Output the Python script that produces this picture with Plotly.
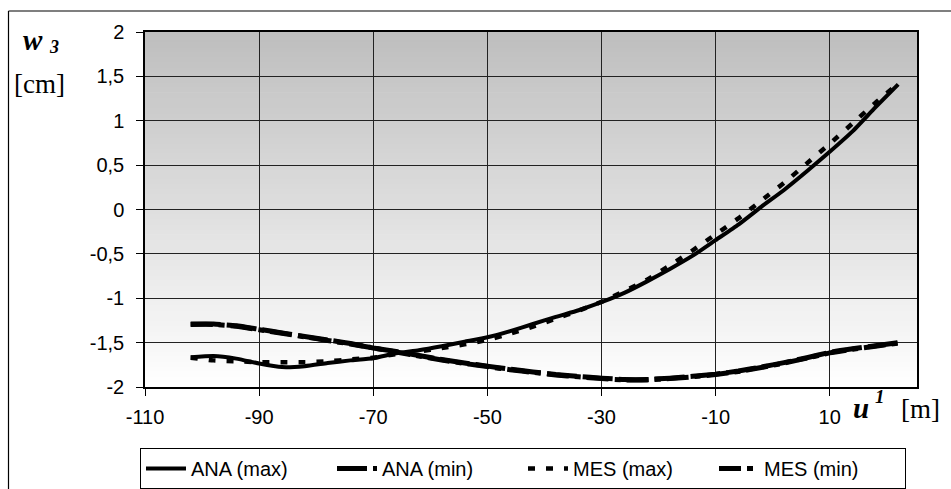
import plotly.graph_objects as go

# ---- data ----
u1 = [-102, -98, -94, -90, -86, -82, -78, -74, -70, -66, -62, -58, -54, -50, -46, -42,
      -38, -34, -30, -26, -22, -18, -14, -10, -6, -2, 2, 6, 10, 14, 18, 22]

ana_max = [-1.665, -1.65, -1.68, -1.735, -1.775, -1.765, -1.73, -1.70, -1.675, -1.62,
           -1.585, -1.54, -1.49, -1.44, -1.37, -1.29, -1.21, -1.135, -1.045, -0.94,
           -0.81, -0.67, -0.52, -0.345, -0.17, 0.03, 0.22, 0.43, 0.65, 0.88, 1.15, 1.41]

ana_min = [-1.29, -1.29, -1.31, -1.35, -1.39, -1.43, -1.47, -1.51, -1.56, -1.60,
           -1.645, -1.69, -1.73, -1.765, -1.80, -1.83, -1.86, -1.88, -1.90, -1.915,
           -1.915, -1.90, -1.88, -1.855, -1.82, -1.775, -1.725, -1.67, -1.61, -1.57,
           -1.535, -1.50]

mes_max = [-1.67, -1.70, -1.71, -1.72, -1.72, -1.72, -1.71, -1.69, -1.67, -1.63,
           -1.60, -1.56, -1.52, -1.47, -1.40, -1.32, -1.23, -1.14, -1.04, -0.92,
           -0.79, -0.63, -0.46, -0.28, -0.10, 0.10, 0.30, 0.52, 0.74, 0.97, 1.20, 1.42]

mes_min = [-1.295, -1.295, -1.315, -1.355, -1.395, -1.435, -1.475, -1.515, -1.56, -1.605,
           -1.65, -1.695, -1.735, -1.77, -1.805, -1.835, -1.865, -1.885, -1.905, -1.92,
           -1.92, -1.905, -1.885, -1.86, -1.825, -1.78, -1.73, -1.675, -1.615, -1.575,
           -1.54, -1.505]

series_names = ["ANA (max)", "ANA (min)", "MES (max)", "MES (min)"]

x_tickvals = [-110, -90, -70, -50, -30, -10, 10]
x_ticktext = ["-110", "-90", "-70", "-50", "-30", "-10", "10"]
y_tickvals = [2, 1.5, 1, 0.5, 0, -0.5, -1, -1.5, -2]
y_ticktext = ["2", "1,5", "1", "0,5", "0", "-0,5", "-1", "-1,5", "-2"]

# ---- layout geometry ----
W, H = 951, 489
L, R, T, B = 145, 34, 32, 102
PW, PH = W - L - R, H - T - B


def px2x(px):
    return (px - L) / PW


def py2y(py):
    return (H - B - py) / PH


fig = go.Figure()

styles = [
    dict(dash="solid", width=4),
    dict(dash="30px,6px", width=5),
    dict(dash="7px,11px", width=4.5),
    dict(dash="22px,6px,6px,6px", width=5),
]
for name, ys, st in zip(series_names, [ana_max, ana_min, mes_max, mes_min], styles):
    fig.add_trace(go.Scatter(
        x=u1, y=ys, name=name, mode="lines",
        line=dict(color="black", width=st["width"], dash=st["dash"], shape="spline", smoothing=0.5),
    ))

# gradient background strips
shapes = []
N = 70
for i in range(N):
    f0 = i / N
    f1 = (i + 1) / N
    fm = (i + 0.5) / N  # 0 bottom, 1 top
    c = int(round(255 - (255 - 190) * fm))
    shapes.append(dict(type="rect", xref="paper", yref="paper", x0=0, x1=1,
                       y0=f0, y1=min(1, f1 + 0.002), layer="below",
                       line=dict(width=0), fillcolor=f"rgb({c},{c},{c})"))
# outer chart border (left and top)
shapes.append(dict(type="line", xref="paper", yref="paper",
                   x0=px2x(8.5), x1=px2x(8.5), y0=py2y(11), y1=py2y(495),
                   line=dict(color="black", width=1.2)))
shapes.append(dict(type="line", xref="paper", yref="paper",
                   x0=px2x(8.5), x1=px2x(960), y0=py2y(11), y1=py2y(11),
                   line=dict(color="black", width=1.2)))

serif = "Liberation Serif, Times New Roman, serif"
annotations = [
    dict(text="<b><i>w</i></b>", xref="paper", yref="paper", x=px2x(33), y=py2y(40),
         showarrow=False, xanchor="center", yanchor="middle",
         font=dict(family=serif, size=29, color="black")),
    dict(text="<b><i>3</i></b>", xref="paper", yref="paper", x=px2x(54), y=py2y(47),
         showarrow=False, xanchor="center", yanchor="middle",
         font=dict(family=serif, size=18, color="black")),
    dict(text="[cm]", xref="paper", yref="paper", x=px2x(40), y=py2y(84),
         showarrow=False, xanchor="center", yanchor="middle",
         font=dict(family=serif, size=27, color="black")),
    dict(text="<b><i>u</i></b>", xref="paper", yref="paper", x=px2x(861), y=py2y(408),
         showarrow=False, xanchor="center", yanchor="middle",
         font=dict(family=serif, size=29, color="black")),
    dict(text="<b><i>1</i></b>", xref="paper", yref="paper", x=px2x(880), y=py2y(396),
         showarrow=False, xanchor="center", yanchor="middle",
         font=dict(family=serif, size=19, color="black")),
    dict(text="[m]", xref="paper", yref="paper", x=px2x(920), y=py2y(409),
         showarrow=False, xanchor="center", yanchor="middle",
         font=dict(family=serif, size=27, color="black")),
]

sans = "Liberation Sans, Arial, sans-serif"
fig.update_layout(
    width=W, height=H,
    margin=dict(l=L, r=R, t=T, b=B, pad=0, autoexpand=False),
    paper_bgcolor="white", plot_bgcolor="white",
    separators=", ",
    showlegend=True,
    legend=dict(orientation="h", xref="paper", yref="paper",
                x=px2x(140), y=py2y(448), xanchor="left", yanchor="top",
                bordercolor="black", borderwidth=1, bgcolor="white",
                font=dict(family=sans, size=20, color="black"),
                entrywidth=136, entrywidthmode="pixels",
                tracegroupgap=0, itemwidth=40),
    shapes=shapes,
    annotations=annotations,
    font=dict(family=sans, size=20, color="black"),
)

fig.update_xaxes(range=[-110, 25.3], tickvals=x_tickvals, ticktext=x_ticktext,
                 showgrid=True, gridcolor="#222", gridwidth=1,
                 ticks="outside", ticklen=7, tickcolor="black", tickwidth=1,
                 showline=True, mirror=True, linecolor="black", linewidth=1.5,
                 zeroline=False, ticklabelstandoff=4,
                 tickfont=dict(family=sans, size=20, color="black"))
fig.update_yaxes(range=[-2, 2], tickvals=y_tickvals, ticktext=y_ticktext,
                 showgrid=True, gridcolor="#222", gridwidth=1,
                 ticks="outside", ticklen=7, tickcolor="black", tickwidth=1,
                 showline=True, mirror=True, linecolor="black", linewidth=1.5,
                 zeroline=False, ticklabelstandoff=8,
                 tickfont=dict(family=sans, size=20, color="black"))

fig.write_html("out.html", config={"displayModeBar": False},
               post_script="document.body.style.margin='0px';document.body.style.padding='0px';")
